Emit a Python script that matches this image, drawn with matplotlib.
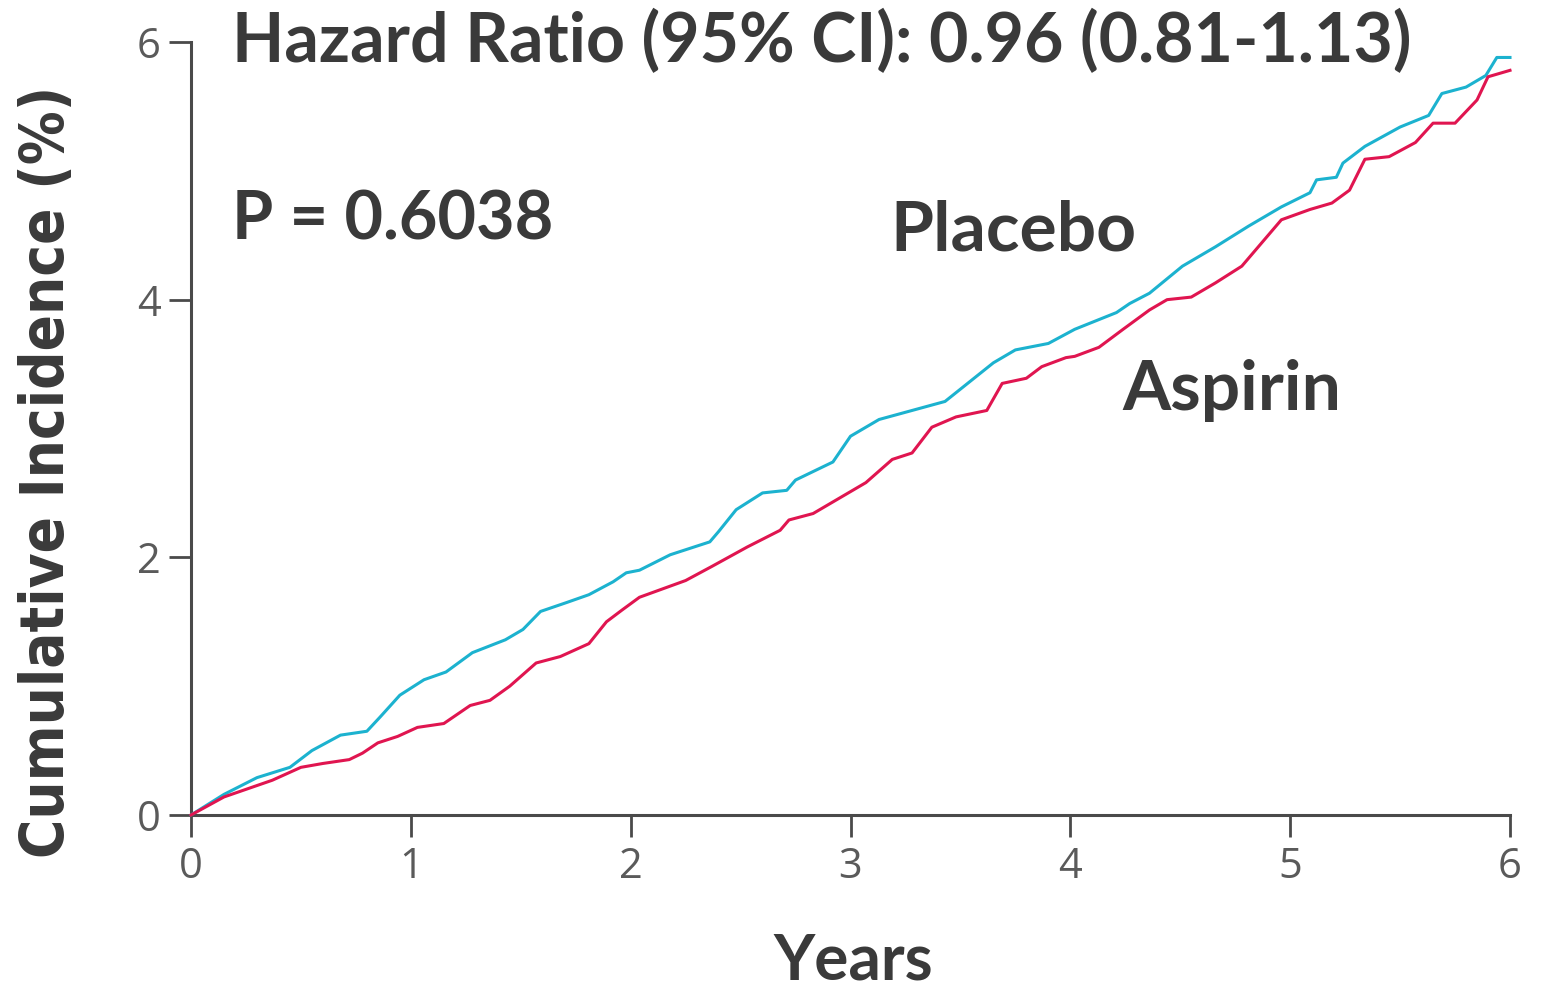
import matplotlib.pyplot as plt

W, H = 1547, 990

# (years, cumulative incidence %)
placebo_t = [0, 0.15, 0.30, 0.45, 0.55, 0.68, 0.80, 0.86, 0.95, 1.06, 1.16, 1.28, 1.43,
             1.51, 1.59, 1.71, 1.81, 1.92, 1.98, 2.04, 2.18, 2.36, 2.40, 2.48, 2.60, 2.71,
             2.75, 2.92, 3.00, 3.13, 3.28, 3.43, 3.54, 3.65, 3.75, 3.90, 4.02, 4.21, 4.27,
             4.36, 4.51, 4.66, 4.81, 4.96, 5.09, 5.12, 5.21, 5.24, 5.34, 5.50, 5.63, 5.69,
             5.80, 5.89, 5.94, 6.0]
placebo_v = [0, 0.16, 0.29, 0.37, 0.50, 0.62, 0.65, 0.76, 0.93, 1.05, 1.11, 1.26, 1.36,
             1.44, 1.58, 1.65, 1.71, 1.81, 1.88, 1.90, 2.02, 2.12, 2.20, 2.37, 2.50, 2.52,
             2.60, 2.74, 2.94, 3.07, 3.14, 3.21, 3.36, 3.51, 3.61, 3.66, 3.77, 3.90, 3.97,
             4.05, 4.26, 4.41, 4.57, 4.72, 4.83, 4.93, 4.95, 5.06, 5.19, 5.34, 5.43, 5.60,
             5.65, 5.74, 5.88, 5.88]

aspirin_t = [0, 0.15, 0.37, 0.50, 0.60, 0.72, 0.78, 0.85, 0.94, 1.03, 1.15, 1.27, 1.36,
             1.45, 1.57, 1.68, 1.81, 1.89, 1.96, 2.04, 2.25, 2.37, 2.53, 2.68, 2.72, 2.83,
             2.95, 3.07, 3.19, 3.28, 3.37, 3.48, 3.62, 3.69, 3.80, 3.87, 3.98, 4.02, 4.13,
             4.24, 4.36, 4.44, 4.55, 4.66, 4.78, 4.87, 4.96, 5.09, 5.19, 5.27, 5.34, 5.45,
             5.57, 5.65, 5.75, 5.85, 5.90, 6.0]
aspirin_v = [0, 0.14, 0.27, 0.37, 0.40, 0.43, 0.48, 0.56, 0.61, 0.68, 0.71, 0.85, 0.89,
             1.00, 1.18, 1.23, 1.33, 1.50, 1.59, 1.69, 1.82, 1.93, 2.08, 2.21, 2.29, 2.34,
             2.46, 2.58, 2.76, 2.81, 3.01, 3.09, 3.14, 3.35, 3.39, 3.48, 3.55, 3.56, 3.63,
             3.77, 3.92, 4.00, 4.02, 4.13, 4.26, 4.44, 4.62, 4.70, 4.75, 4.85, 5.09, 5.11,
             5.22, 5.37, 5.37, 5.55, 5.73, 5.78]

x_ticks = [0, 1, 2, 3, 4, 5, 6]
y_ticks = [0, 2, 4, 6]

hr_text = "Hazard Ratio (95% CI): 0.96 (0.81-1.13)"
p_text = "P = 0.6038"

fig = plt.figure(figsize=(W / 100, H / 100), dpi=100)
ax = fig.add_axes([191 / W, 1 - 815 / H, (1510 - 191) / W, (815 - 42) / H])

ax.plot(placebo_t, placebo_v, color="#1cb2cf", lw=2.2, clip_on=False, zorder=3)
ax.plot(aspirin_t, aspirin_v, color="#e01550", lw=2.2, clip_on=False, zorder=3)

ax.set_xlim(0, 6)
ax.set_ylim(0, 6)
ax.set_xticks(x_ticks)
ax.set_yticks(y_ticks)
for s in ["top", "right"]:
    ax.spines[s].set_visible(False)
for s in ["left", "bottom"]:
    ax.spines[s].set_color("#4a4a4a")
    ax.spines[s].set_linewidth(2.2)
ax.tick_params(direction="out", length=16, width=2, color="#4a4a4a",
               labelsize=30, labelcolor="#5a5a5a", pad=6)
for lab in ax.get_xticklabels() + ax.get_yticklabels():
    lab.set_fontfamily("Open Sans")

txt = dict(family="Lato", weight="bold", color="#3a3a3a", va="baseline")
fig.text(232 / W, 1 - 62 / H, hr_text, fontsize=49, **txt)
fig.text(232 / W, 1 - 240 / H, p_text, fontsize=48, **txt)
fig.text(890 / W, 1 - 250 / H, "Placebo", fontsize=50, **txt)
fig.text(1122 / W, 1 - 410 / H, "Aspirin", fontsize=50, **txt)
fig.text(853 / W, 1 - 980 / H, "Years", fontsize=46, ha="center", **txt)
fig.text(48 / W, 1 - 472 / H, "Cumulative Incidence (%)", fontsize=43,
         rotation=90, ha="center", va="center", family="DejaVu Sans",
         fontstretch="condensed", weight="bold", color="#3a3a3a")

fig.savefig("out.png", dpi=100)
